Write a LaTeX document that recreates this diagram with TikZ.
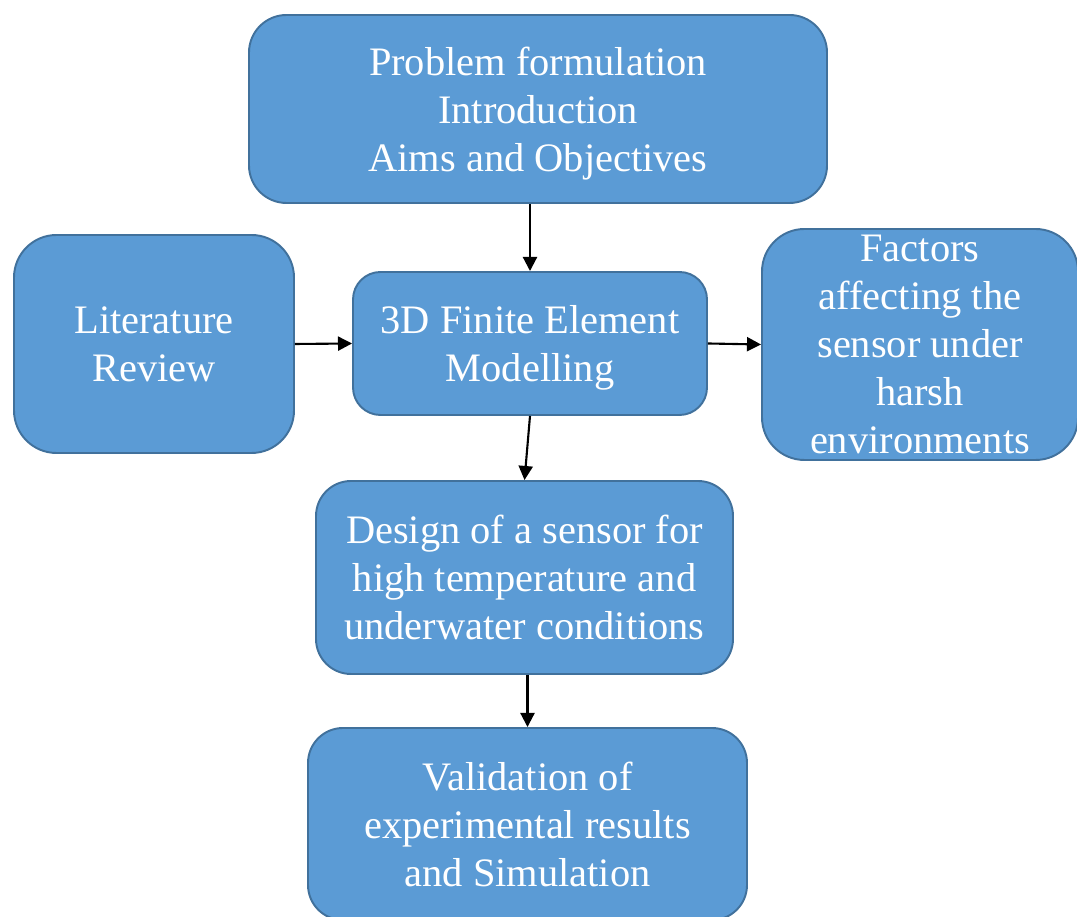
\documentclass[tikz,border=0pt]{standalone}
\usepackage{fontspec}
\setmainfont{Liberation Serif}
\usepackage{tikz}
\definecolor{boxcolor}{HTML}{5B9BD5}
\definecolor{edgecolor}{HTML}{41719C}
\usetikzlibrary{arrows.meta,positioning}
\tikzset{
	block/.style={
		rectangle,
		line width=1.1pt,
		draw=edgecolor,
		fill=boxcolor,
		text=white,
		align=center,
		inner sep=0pt,
		text depth=-3pt,
		font=\fontsize{23}{27.3}\selectfont
	},
	boxtext/.style={
		text=white,
		align=center,
		inner sep=0pt,
		text depth=-3pt,
		font=\fontsize{23}{27.3}\selectfont
	},
	arrow/.style={
		draw=black,
		line width=1.2pt,
		-{Triangle[length=8pt,width=8pt]}
	},
}

\begin{document}
\begin{tikzpicture}
\useasboundingbox (0,0) rectangle (21.54,18.34);
\clip (0,0) rectangle (21.54,18.34);
\node [block,minimum width=11.56cm,minimum height=3.76cm,rounded corners=0.75cm] (problem) at (10.76,16.16) {Problem formulation\\Introduction\\Aims and Objectives};
\node [block,minimum width=5.6cm,minimum height=4.36cm,rounded corners=0.85cm] (review) at (3.08,11.46) {Literature\\Review};
\node [block,minimum width=7.08cm,minimum height=2.86cm,rounded corners=0.55cm] (fem) at (10.6,11.47) {3D Finite Element\\Modelling};
\node [block,minimum width=6.32cm,minimum height=4.62cm,rounded corners=0.85cm] (factors) at (18.4,11.45) {};
\node [boxtext] (factorstext) at (factors.center) {Factors\\affecting the\\sensor under\\harsh\\environments};
\node [block,minimum width=8.34cm,minimum height=3.86cm,rounded corners=0.7cm] (design) at (10.49,6.79) {Design of a sensor for\\high temperature and\\underwater conditions};
\node [block,minimum width=8.78cm,minimum height=3.84cm,rounded corners=0.7cm] (validation) at (10.55,1.86) {Validation of\\experimental results\\and Simulation};

\draw[arrow] (fem.north |- problem.south) -- (fem.north);
\draw[arrow] (review.east) -- (fem.west);
\draw[arrow] (fem.east) -- (factors.west);
\draw[arrow] (fem.south) -- (design.north);
\draw[arrow] (validation.north |- design.south) -- (validation.north);
\end{tikzpicture}
\end{document}
